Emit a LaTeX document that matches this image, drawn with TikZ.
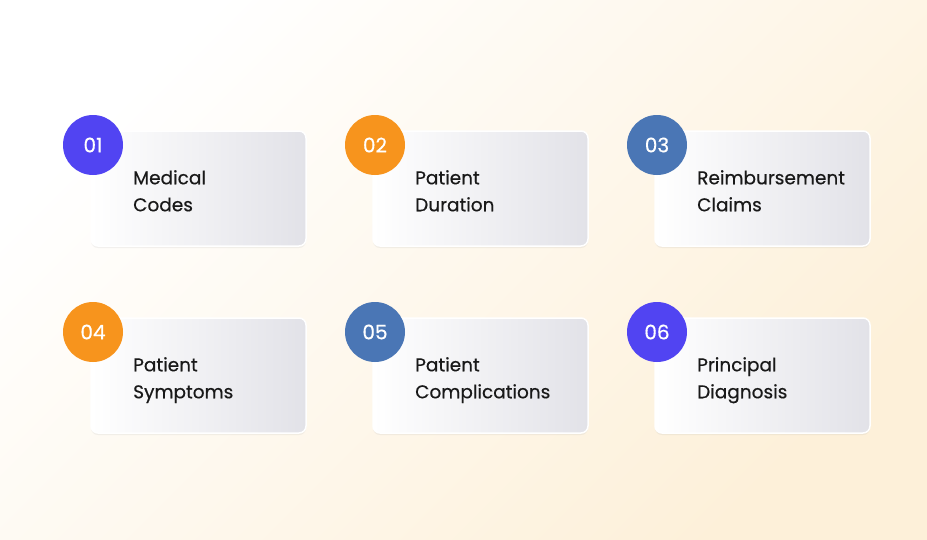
\documentclass[tikz,border=0pt]{standalone}
\usepackage{fontspec}
\setmainfont{Poppins}[FakeBold=0.5]
\usetikzlibrary{shadows}
\definecolor{cpur}{HTML}{5144F2}
\definecolor{cora}{HTML}{F7941D}
\definecolor{cblu}{HTML}{4A76B5}
\definecolor{bgB}{HTML}{FDF0D9}
\definecolor{cardR}{HTML}{E2E2E8}
\tikzset{
 card/.style={rounded corners=7pt, left color=white, right color=cardR, draw=white, line width=1.5pt,
   drop shadow={shadow xshift=0pt, shadow yshift=-2pt, opacity=0.12, fill=black!40}},
 num/.style={circle, minimum size=60pt, inner sep=0pt, text=white, font=\fontsize{20}{20}\selectfont},
 lbl/.style={anchor=north west, align=left, inner sep=0pt, text=black!90, font=\fontsize{18.5}{27}\selectfont}
}
\begin{document}
\begin{tikzpicture}[x=1pt,y=1pt]
\shade[left color=white, right color=bgB, shading angle=45] (0,-539) rectangle (927,0);
\useasboundingbox (0,-539) rectangle (927,0);
\begin{scope}[y=-1pt]
\foreach \cx/\cy/\i/\c/\t [count=\k] in {
 91/131/01/cpur/{Medical\\Codes},
 373/131/02/cora/{Patient\\Duration},
 655/131/03/cblu/{Reimbursement\\Claims},
 91/318/04/cora/{Patient\\Symptoms},
 373/318/05/cblu/{Patient\\Complications},
 655/318/06/cpur/{Principal\\Diagnosis}}{
 \path[card] (\cx,\cy) rectangle ++(215,115);
 \node[num, fill=\c] (n\k) at (\cx+2,\cy+14) {\i};
 \node[lbl] (t\k) at (\cx+42,\cy+39) {\t};
}
\end{scope}
\end{tikzpicture}
\end{document}
